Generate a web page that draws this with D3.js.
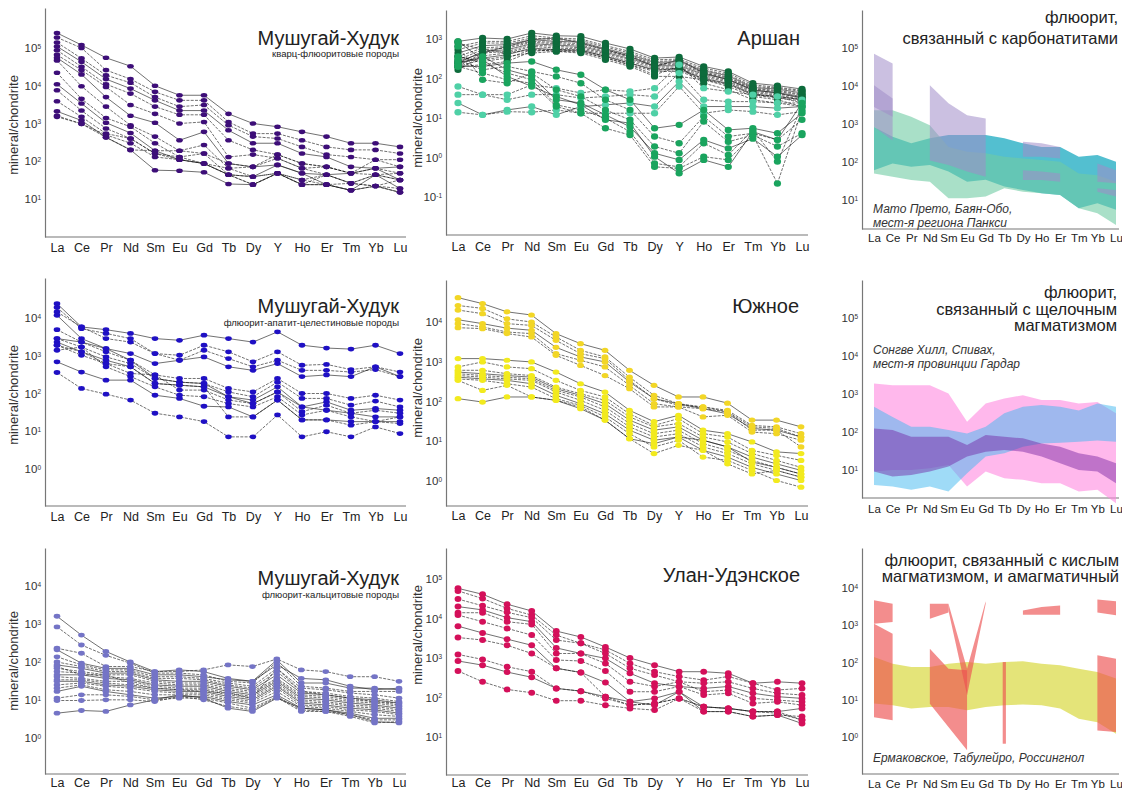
<!DOCTYPE html>
<html>
<head>
<meta charset="utf-8">
<title>REE spectra of fluorite</title>
<script src="https://d3js.org/d3.v7.min.js"></script>
<style>
    body { margin: 0; background: #fff; }
    svg { font-family: "Liberation Sans", Arial, sans-serif; }
</style>
</head>
<body>
<script>
    var ree15 = ["La", "Ce", "Pr", "Nd", "Sm", "Eu", "Gd", "Tb", "Dy", "Y", "Ho", "Er", "Tm", "Yb", "Lu"];
    var ree14 = ["La", "Ce", "Pr", "Nd", "Sm", "Eu", "Gd", "Tb", "Dy", "Ho", "Er", "Tm", "Yb", "Lu"];

    // Мушугай-Худук, кварц-флюоритовые породы
    var quartzFluorite = [
        [2.5e5, 1.2e5, 5.5e4, 3.3e4, 1.0e4, 5.6e3, 5.6e3, 1.8e3, 1.0e3, 820, 600, 450, 300, 300, 240],
        [1.9e5, 1.0e5, 2.6e4, 1.5e4, 6.9e3, 4.1e3, 4.1e3, 1.1e3, 540, 540, 360, 240, 200, 200, 160],
        [1.4e5, 5.3e4, 1.9e4, 1.2e4, 5.0e3, 2.8e3, 3.1e3, 900, 450, 400, 240, 150, 130, 110, 110],
        [1.1e5, 4.3e4, 1.5e4, 8.4e3, 4.1e3, 2.2e3, 2.2e3, 660, 300, 300, 160, 130, 71, 65, 71],
        [8.7e4, 3.2e4, 1.1e4, 6.2e3, 2.8e3, 1.7e3, 1.7e3, 360, 200, 150, 87, 71, 48, 44, 48],
        [6.6e4, 2.6e4, 9.3e3, 3.1e3, 1.8e3, 1.0e3, 1.1e3, 130, 150, 120, 65, 44, 26, 22, 32],
        [5.5e4, 2.0e4, 5.0e3, 1.6e3, 1.05e3, 360, 600, 87, 71, 80, 48, 24, 17, 44, 19],
        [4.7e4, 9.7e3, 2.8e3, 900, 450, 190, 270, 65, 39, 48, 32, 44, 26, 22, 15],
        [2.2e4, 4.5e3, 1.4e3, 820, 300, 130, 160, 44, 24, 48, 24, 24, 17, 22, 19],
        [1.1e4, 3.4e3, 1.05e3, 560, 190, 110, 87, 44, 39, 80, 48, 44, 48, 65, 32],
        [7.6e3, 2.2e3, 740, 400, 160, 110, 87, 44, 39, 48, 32, 24, 26, 44, 32],
        [3.9e3, 1.5e3, 540, 400, 160, 130, 87, 65, 71, 120, 65, 71, 48, 65, 48],
        [2.1e3, 1.2e3, 430, 200, 58, 56, 51, 25, 24, 48, 24, 24, 17, 22, 15],
        [1.6e3, 980, 430, 200, 190, 190, 160, 87, 71, 150, 87, 71, 48, 110, 71],
        [1.5e3, 980, 500, 300, 130, 110, 87, 44, 24, 48, 24, 44, 26, 44, 32]
    ];

    // Аршан: три группы образцов
    var arshanDark = [
        [870, 1060, 1000, 1420, 1210, 1170, 790, 560, 329, 350, 202, 151, 76, 66, 54],
        [650, 870, 870, 1210, 1060, 1000, 680, 485, 298, 310, 183, 137, 69, 60, 50],
        [535, 790, 790, 1060, 960, 920, 625, 440, 270, 285, 166, 124, 63, 57, 47],
        [440, 680, 720, 960, 870, 840, 570, 400, 255, 265, 156, 117, 59, 54, 43],
        [362, 590, 650, 870, 820, 760, 535, 375, 235, 245, 145, 108, 56, 50, 40],
        [298, 535, 590, 820, 760, 700, 495, 350, 222, 225, 137, 102, 54, 47, 38],
        [245, 485, 535, 760, 700, 650, 460, 320, 210, 210, 127, 96, 50, 44, 35],
        [202, 440, 485, 700, 650, 600, 425, 298, 195, 195, 117, 89, 47, 41, 33],
        [166, 375, 440, 650, 590, 560, 390, 270, 180, 180, 108, 83, 44, 38, 30],
        [245, 329, 400, 590, 535, 515, 362, 245, 166, 166, 100, 76, 41, 35, 29],
        [362, 270, 329, 535, 485, 475, 335, 222, 151, 151, 93, 70, 38, 32, 27],
        [202, 222, 270, 485, 535, 535, 362, 245, 160, 183, 96, 73, 39, 34, 24],
        [270, 440, 650, 960, 1060, 790, 535, 362, 202, 298, 137, 93, 52, 43, 32],
        [202, 298, 362, 440, 485, 440, 298, 202, 113, 113, 93, 63, 35, 29, 19.5],
        [790, 535, 440, 535, 535, 485, 329, 222, 124, 202, 76, 52, 29, 24, 19.5]
    ];
    var arshanMid = [
        [202, 202, 245, 270, 166, 124, 52, 29, 5.5, 6.7, 16, 5.0, 5.5, 4.1, 13.2],
        [298, 166, 202, 151, 113, 76, 29, 16, 3.4, 2.3, 10.9, 3.4, 4.1, 2.8, 9.0],
        [650, 93, 76, 137, 52, 35, 16, 9.0, 1.9, 1.28, 8.1, 2.5, 3.7, 1.9, 4.1],
        [245, 362, 166, 113, 29, 24, 12, 6.0, 1.28, 0.87, 2.8, 1.7, 3.0, 1.05, 3.7],
        [362, 245, 137, 93, 21.5, 16, 9.9, 4.5, 0.71, 0.58, 2.3, 1.16, 5.0, 0.79, 19.5],
        [202, 137, 93, 76, 19.5, 13.2, 5.5, 3.7, 0.58, 0.53, 1.05, 0.87, 3.7, 0.22, 16],
        [870, 298, 113, 63, 35, 21.5, 9.0, 7.4, 1.05, 0.40, 0.87, 0.58, 4.5, 2.8, 24]
    ];
    var arshanLight = [
        [63, 39, 39, 69, 57, 43, 52, 47, 57, 222, 57, 47, 39, 35, 29],
        [39, 39, 29, 39, 39, 32, 35, 39, 35, 137, 29, 26, 26, 24, 24],
        [24, 12, 16, 19.5, 12, 19.5, 21.5, 24, 19.5, 84, 19.5, 19.5, 19.5, 17.7, 19.5],
        [14, 12, 14.5, 14, 16, 13.2, 13.2, 13.2, 13.2, 63, 13.2, 16, 14.5, 12, 14.5]
    ];

    // Мушугай-Худук, флюорит-апатит-целестиновые породы
    var fluorApatite = [
        [2.4e4, 5.8e3, 4.9e3, 3.9e3, 2.85e3, 2.57e3, 3.5e3, 2.85e3, 2.3e3, 4.3e3, 1.9e3, 1.6e3, 1.5e3, 1.9e3, 1.14e3],
        [1.9e4, 5.2e3, 3.9e3, 2.85e3, 1.14e3, 1.03e3, 1.9e3, 1.27e3, 690, 1.27e3, 560, 590, 430, 510, 370],
        [1.45e4, 5.8e3, 2.85e3, 2.3e3, 1.14e3, 760, 1.4e3, 840, 510, 760, 410, 410, 370, 430, 280],
        [1.18e4, 2.85e3, 1.55e3, 1.14e3, 620, 760, 930, 510, 410, 620, 280, 310, 280, 510, 280],
        [4.9e3, 2.3e3, 1.27e3, 760, 310, 250, 250, 136, 110, 250, 100, 100, 74, 90, 67],
        [2.85e3, 1.7e3, 930, 620, 250, 200, 184, 110, 82, 200, 74, 74, 49, 63, 44],
        [2.3e3, 1.27e3, 760, 510, 184, 166, 150, 82, 67, 150, 44, 60, 36, 40, 36],
        [1.9e3, 1.03e3, 620, 340, 310, 123, 123, 67, 54, 110, 33, 49, 30, 36, 30],
        [1.4e3, 1.7e3, 510, 280, 150, 90, 82, 54, 44, 82, 27, 36, 24, 18, 24],
        [690, 370, 226, 226, 90, 74, 46, 44, 24, 67, 20, 20, 18, 18, 18],
        [360, 136, 96, 67, 30, 24, 18, 7.1, 7.1, 27, 7.1, 9.7, 7.1, 13, 8.7],
        [1.9e3, 1.27e3, 620, 510, 184, 166, 150, 24, 24, 67, 20, 20, 14.5, 18, 16],
        [2.85e3, 2.3e3, 1.55e3, 760, 250, 200, 184, 82, 54, 110, 44, 36, 30, 24, 24]
    ];

    // Южное: верхняя и нижняя группы
    var yuzhUpper = [
        [4.1e4, 2.9e4, 1.8e4, 1.5e4, 5.1e3, 2.85e3, 1.94e3, 610, 255, 130, 130, 91, 34, 34, 23],
        [2.6e4, 2.2e4, 1.2e4, 1.0e4, 4.2e3, 1.94e3, 1.32e3, 410, 143, 88, 73, 60, 25, 23, 15.5],
        [2.0e4, 1.62e4, 9.1e3, 8.2e3, 3.45e3, 1.6e3, 1.2e3, 340, 118, 80, 73, 55, 23, 21, 12.8],
        [1.14e4, 9.1e3, 7.0e3, 6.2e3, 2.3e3, 1.32e3, 990, 310, 118, 88, 66, 49, 21, 19, 12.8],
        [9.1e3, 7.5e3, 5.6e3, 5.1e3, 1.6e3, 1.09e3, 740, 255, 88, 73, 41, 45, 17, 15.5, 10.6],
        [7.2e3, 6.8e3, 5.1e3, 4.2e3, 1.45e3, 810, 450, 210, 73, 73, 66, 55, 19, 19, 7.2]
    ];
    var yuzhLower = [
        [1.2e3, 1.2e3, 1.09e3, 990, 550, 280, 173, 60, 31, 45, 19, 15.5, 9.6, 5.4, 4.9],
        [740, 990, 740, 670, 340, 190, 130, 49, 25, 37, 15.5, 12.8, 5.9, 4.4, 3.3],
        [610, 610, 500, 450, 230, 157, 107, 41, 23, 28, 12.8, 9.6, 4.9, 3.3, 2.2],
        [550, 500, 450, 410, 210, 143, 88, 34, 19, 23, 10.6, 7.2, 4.0, 2.7, 1.85],
        [500, 450, 410, 370, 190, 130, 73, 28, 15.5, 19, 8.7, 5.9, 3.3, 2.2, 1.5],
        [450, 410, 370, 340, 173, 107, 60, 23, 12.8, 15.5, 7.2, 4.9, 2.7, 1.85, 1.25],
        [410, 370, 340, 280, 143, 88, 49, 19, 10.6, 12.8, 5.9, 4.0, 2.2, 1.5, 1.03],
        [370, 340, 280, 230, 118, 80, 41, 15.5, 7.2, 10.6, 4.0, 3.3, 1.85, 1.03, 0.70],
        [340, 190, 255, 130, 107, 73, 34, 11.6, 4.9, 7.9, 5.9, 2.7, 1.5, 1.85, 1.25],
        [118, 97, 130, 130, 107, 66, 34, 11.6, 8.7, 12.8, 10.6, 7.2, 3.0, 2.2, 1.5]
    ];

    // Мушугай-Худук, флюорит-кальцитовые породы
    var fluorCalcite = [
        [1.6e3, 510, 190, 100, 56, 62, 56, 37, 31, 113, 28, 28, 20.5, 20.5, 18.6],
        [840, 280, 150, 93, 51, 51, 46, 31, 28, 100, 23, 20.5, 16.8, 16.8, 16.8],
        [230, 170, 76, 76, 56, 56, 62, 84, 76, 120, 62, 56, 41, 41, 31],
        [210, 93, 68, 68, 46, 46, 41, 34, 31, 84, 37, 34, 23, 18.6, 20.5],
        [137, 84, 62, 62, 41, 41, 37, 28, 23, 68, 20.5, 18.6, 15.2, 13.7, 11.2],
        [100, 76, 56, 56, 37, 37, 34, 25, 20.5, 56, 16.8, 15.2, 12.4, 11.2, 9.1],
        [84, 68, 51, 51, 34, 31, 31, 23, 18.6, 46, 15.2, 13.7, 11.2, 10.1, 8.3],
        [68, 56, 46, 46, 31, 28, 28, 20.5, 16.8, 37, 13.7, 12.4, 10.1, 9.1, 7.4],
        [56, 51, 41, 37, 28, 25, 25, 18.6, 15.2, 34, 12.4, 11.2, 9.1, 8.3, 6.8],
        [46, 46, 37, 34, 25, 23, 23, 16.8, 13.7, 31, 11.2, 10.1, 8.3, 7.4, 6.1],
        [41, 37, 31, 31, 23, 20.5, 20.5, 15.2, 12.4, 28, 10.1, 9.1, 7.4, 6.8, 5.5],
        [34, 34, 28, 25, 20.5, 18.6, 18.6, 13.7, 11.2, 25, 9.1, 8.3, 6.8, 6.1, 5.0],
        [31, 31, 25, 23, 18.6, 16.8, 16.8, 12.4, 10.1, 23, 8.3, 7.4, 6.1, 5.5, 4.5],
        [25, 28, 23, 20.5, 16.8, 15.2, 15.2, 11.2, 9.1, 20.5, 7.4, 6.8, 5.5, 5.0, 4.1],
        [20.5, 25, 18.6, 16.8, 13.7, 13.7, 13.7, 10.1, 8.3, 16.8, 6.8, 6.1, 5.0, 4.1, 3.7],
        [16.8, 23, 16.8, 13.7, 11.2, 12.4, 12.4, 9.1, 7.4, 13.7, 6.1, 5.5, 4.5, 3.3, 3.3],
        [11.2, 13.7, 13.7, 12.4, 10.1, 11.2, 11.2, 8.3, 6.1, 12.4, 5.5, 5.0, 4.1, 3.0, 3.0],
        [9.7, 9.7, 10.1, 10.1, 9.1, 12.4, 10.1, 6.8, 5.5, 11.7, 5.0, 5.0, 3.7, 2.5, 2.7],
        [4.5, 5.3, 5.0, 7.4, 10.1, 13.7, 11.2, 6.1, 5.0, 11.2, 6.1, 5.5, 4.1, 2.7, 2.5],
        [76, 46, 46, 28, 20.5, 18.6, 16.8, 15.2, 11.2, 68, 16.8, 13.7, 11.2, 9.1, 8.3]
    ];

    // Улан-Удэнское
    var ulanUde = [
        [5.8e4, 4.1e4, 2.3e4, 1.55e4, 4.8e3, 3.4e3, 1.9e3, 1.0e3, 660, 450, 450, 410, 230, 250, 230],
        [5.0e4, 3.2e4, 1.8e4, 1.22e4, 3.8e3, 2.35e3, 1.6e3, 730, 450, 340, 275, 340, 230, 155, 170],
        [3.1e4, 2.1e4, 1.43e4, 1.05e4, 2.85e3, 2.35e3, 1.3e3, 550, 370, 250, 230, 250, 170, 128, 116],
        [2.0e4, 1.65e4, 1.05e4, 8.3e3, 1.8e3, 1.3e3, 980, 410, 230, 190, 170, 190, 128, 105, 95],
        [1.4e4, 1.4e4, 8.3e3, 7.1e3, 1.3e3, 1.3e3, 730, 250, 190, 250, 140, 155, 95, 86, 78],
        [1.22e4, 8.3e3, 5.6e3, 3.8e3, 890, 840, 470, 140, 140, 190, 116, 128, 71, 78, 64],
        [6.4e3, 4.3e3, 3.0e3, 2.1e3, 550, 430, 240, 78, 95, 140, 58, 53, 44, 44, 53],
        [3.3e3, 2.85e3, 2.1e3, 1.3e3, 550, 430, 105, 64, 71, 95, 44, 44, 33, 36, 33],
        [1.23e3, 920, 600, 450, 170, 145, 95, 64, 71, 95, 58, 53, 44, 44, 27],
        [840, 660, 440, 325, 170, 145, 105, 78, 64, 140, 44, 44, 33, 36, 22],
        [470, 250, 160, 132, 83, 83, 64, 53, 48, 95, 58, 53, 44, 40, 27]
    ];

    // флюорит, связанный с карбонатитами (поля: верхняя / нижняя граница)
    var carbTealUp = [840, 460, 310, 420, 510, 510, 510, 420, 310, 250, 250, 138, 152, 102];
    var carbTealLo = [61, 92, 75, 83, 56, 30, 34, 22.5, 18.4, 15, 13.6, 6.1, 8.2, 5.5];
    var carbMintUp = [2.3e3, 2.3e3, 1.55e3, 930, 250, 186, 169, 138, 124, 113, 102, 50, 45, 30];
    var carbMintLo = [50, 41, 33.6, 30.4, 11.1, 11.1, 12.3, 20.3, 16.6, 15, 13.6, 6.1, 4.5, 2.2];
    var carbPurpleAUp = [7.1e4, 3.9e4, null, 1.05e4, 3.5e3, 1.7e3, 1.4e3, null, 340, 310, 250, null, 91, 61];
    var carbPurpleALo = [850, 370, null, 110, 83, 56, 41, null, 138, 138, 124, null, 30.4, 27.5];
    var carbPurpleBUp = [1.05e4, 4.7e3, null, null, null, null, null, null, 61, 56, 50, null, 20.3, 18.4];
    var carbPurpleBLo = [2.8e3, 1.55e3, null, null, null, null, null, null, 33.6, 33.6, 30.4, null, 16.6, 12.3];

    // флюорит, связанный с щелочным магматизмом
    var alkPinkUp = [1.89e3, 1.71e3, 1.71e3, 1.71e3, 1.03e3, 186, 560, 760, 930, 690, 690, 560, 620, 310];
    var alkPinkLo = [9.1, 10, 10, 11.1, 13.6, 3.66, 9.1, 6.1, 5.5, 4.5, 4.5, 2.7, 3.0, 1.34];
    var alkBlueUp = [460, 250, 138, 138, 113, 92, 138, 310, 460, 510, 460, 370, 560, 460];
    var alkBlueLo = [4.06, 3.66, 3.0, 3.66, 2.7, 8.2, 22.5, 27.5, 41, 50, 52, 55, 60, 55];
    var alkPurpleUp = [124, 113, 75, 75, 75, 45.5, 83, 75, 68, 50, 41, 27.5, 22.5, 15];
    var alkPurpleLo = [9.1, 6.7, 7.4, 9.1, 12.3, 22.5, 30.4, 33.6, 30.4, 22.5, 15, 10, 9.1, 4.5];

    // флюорит, связанный с кислым магматизмом, и амагматичный
    var acidYellowUp = [140, 93, 76, 76, 93, 103, 93, 103, 108, 93, 84, 68, 56, 37];
    var acidYellowLo = [7.9, 7.1, 5.8, 6.4, 6.4, 5.2, 6.4, 7.1, 7.4, 7.1, 5.8, 3.1, 2.5, 1.23];
    var acidRed = [
        { up: [4.7e3, 3.8e3, null, null, null, null, null, null, null, null, null, null, null, null],
          lo: [1.1e3, 1.22e3, null, null, null, null, null, null, null, null, null, null, null, null] },
        { up: [1.1e3, 590, null, null, null, null, null, null, null, null, null, null, null, null],
          lo: [3.4, 2.8, null, null, null, null, null, null, null, null, null, null, null, null] },
        { up: [null, null, null, 3.8e3, 3.8e3, null, null, null, null, null, null, null, null, null],
          lo: [null, null, null, 1.5e3, 2.2e3, null, null, null, null, null, null, null, null, null] },
        { up: [null, null, null, 235, 68, 62, null, null, null, null, null, null, null, null],
          lo: [null, null, null, 7.85, 1.85, 0.44, null, null, null, null, null, null, null, null] },
        { up: [null, null, null, null, 3.8e3, 68, 4.4e3, null, null, null, null, null, null, null],
          lo: [null, null, null, null, 2.5e3, 13.2, 3.8e3, null, null, null, null, null, null, null] },
        { up: [null, null, null, null, null, null, null, 103, null, null, null, null, null, null],
          lo: [null, null, null, null, null, null, null, 0.66, null, null, null, null, null, null] },
        { up: [null, null, null, null, null, null, null, null, 2.5e3, 3.1e3, 3.4e3, null, null, null],
          lo: [null, null, null, null, null, null, null, null, 1.92e3, 1.92e3, 1.92e3, null, null, null] },
        { up: [null, null, null, null, null, null, null, null, null, null, null, null, 4.9e3, 4.4e3],
          lo: [null, null, null, null, null, null, null, null, null, null, null, null, 2.2e3, 1.85e3] },
        { up: [null, null, null, null, null, null, null, null, null, null, null, null, 156, 127],
          lo: [null, null, null, null, null, null, null, null, null, null, null, null, 1.5, 1.36] }
    ];

    var svg = d3.select("body").append("svg")
        .attr("width", 1122)
        .attr("height", 792);

    function makePanel(p) {
        var g = svg.append("g");
        var y = d3.scaleLog().domain([p.lo[0], p.hi[0]]).range([p.lo[1], p.hi[1]]);
        var dTop = y.invert(p.top), dBot = y.invert(p.bottom);
        y.domain([dBot, dTop]).range([p.bottom, p.top]);
        var x = d3.scalePoint().domain(p.cats).range([p.xFirst, p.xLast]);

        var ya = g.append("g")
            .attr("transform", "translate(" + p.x0 + ",0)")
            .call(d3.axisLeft(y).tickValues(p.ticks).tickSize(0).tickSizeOuter(0).tickPadding(4).tickFormat(""));
        ya.attr("font-family", null).attr("font-size", 11.5);
        ya.select(".domain").attr("stroke", "#777").attr("stroke-width", 1.2);
        ya.selectAll(".tick text").attr("fill", "#333").each(function (d) {
            var t = d3.select(this);
            t.text("10");
            t.append("tspan").attr("dy", "-0.5em").attr("font-size", "6.5px")
                .text(Math.round(Math.log10(d)));
        });

        g.append("line")
            .attr("x1", p.x0).attr("x2", p.xEnd)
            .attr("y1", p.bottom).attr("y2", p.bottom)
            .attr("stroke", "#777").attr("stroke-width", 1.2);

        var xa = g.append("g")
            .attr("transform", "translate(0," + p.bottom + ")")
            .call(d3.axisBottom(x).tickSize(0));
        xa.attr("font-family", null).attr("font-size", p.labelFs);
        xa.select(".domain").remove();
        xa.selectAll(".tick text").attr("fill", "#222")
            .attr("y", p.labelY - p.bottom).attr("dy", 0);

        if (p.ylab) {
            g.append("text")
                .attr("transform", "translate(" + p.ylab[0] + "," + p.ylab[1] + ") rotate(-90)")
                .attr("text-anchor", "middle")
                .attr("font-size", 13)
                .attr("fill", "#333")
                .text("mineral/chondrite");
        }
        return { g: g, x: x, y: y, cats: p.cats };
    }

    function drawLines(P, series) {
        var line = d3.line()
            .x(function (d, i) { return P.x(P.cats[i]); })
            .y(function (d) { return P.y(d); });
        P.g.append("g").selectAll("path")
            .data(series)
            .enter()
            .append("path")
            .attr("d", line)
            .attr("fill", "none")
            .attr("stroke", "#111")
            .attr("stroke-width", 0.6)
            .attr("stroke-dasharray", function (d, i) { return i % 3 === 0 ? null : "3,1.3"; });
    }

    function drawDots(P, series, color, rx, ry) {
        var pts = [];
        series.forEach(function (s) {
            s.forEach(function (v, i) { pts.push({ c: P.cats[i], v: v }); });
        });
        P.g.append("g").selectAll("ellipse")
            .data(pts)
            .enter()
            .append("ellipse")
            .attr("cx", function (d) { return P.x(d.c); })
            .attr("cy", function (d) { return P.y(d.v); })
            .attr("rx", rx)
            .attr("ry", ry)
            .attr("fill", color);
    }

    function drawBand(P, up, lo, color, op) {
        var pts = P.cats.map(function (c, i) { return { c: c, u: up[i], l: lo[i] }; });
        var defined = pts.filter(function (d) { return d.u != null; });
        if (defined.length === 1) {
            var d = defined[0];
            P.g.append("rect")
                .attr("x", P.x(d.c) - 1.6).attr("width", 3.2)
                .attr("y", P.y(d.u)).attr("height", P.y(d.l) - P.y(d.u))
                .attr("fill", color).attr("fill-opacity", op);
            return;
        }
        var area = d3.area()
            .defined(function (d) { return d.u != null; })
            .x(function (d) { return P.x(d.c); })
            .y0(function (d) { return P.y(d.l); })
            .y1(function (d) { return P.y(d.u); });
        P.g.append("path")
            .attr("d", area(pts))
            .attr("fill", color)
            .attr("fill-opacity", op);
    }

    function title(lines, xr, y0, fs, step) {
        lines.forEach(function (t, i) {
            svg.append("text")
                .attr("x", xr).attr("y", y0 + i * step)
                .attr("text-anchor", "end")
                .attr("font-size", fs)
                .attr("fill", "#222")
                .text(t);
        });
    }

    function note(lines, x0, y0) {
        lines.forEach(function (t, i) {
            svg.append("text")
                .attr("x", x0).attr("y", y0 + i * 14)
                .attr("font-size", 12)
                .attr("font-style", "italic")
                .attr("fill", "#333")
                .text(t);
        });
    }

    var t15a = [1e1, 1e2, 1e3, 1e4, 1e5];
    var t04 = [1e0, 1e1, 1e2, 1e3, 1e4];

    // ряд 1
    var p1 = makePanel({ x0: 45, top: 8, bottom: 237, xFirst: 57, xLast: 400, xEnd: 406,
        lo: [1e1, 199], hi: [1e5, 48], ticks: t15a, cats: ree15, labelY: 252, labelFs: 12.5, ylab: [18, 125] });
    drawLines(p1, quartzFluorite);
    drawDots(p1, quartzFluorite, "#3d0e78", 3.3, 2.3);
    title(["Мушугай-Худук"], 399, 45, 20, 0);
    title(["кварц-флюоритовые породы"], 399, 57, 9.5, 0);

    var p2 = makePanel({ x0: 446, top: 10, bottom: 235, xFirst: 458, xLast: 802, xEnd: 808,
        lo: [1e-1, 197], hi: [1e3, 39], ticks: [1e-1, 1e0, 1e1, 1e2, 1e3], cats: ree15, labelY: 251, labelFs: 12.5, ylab: [422, 118] });
    drawLines(p2, arshanDark.concat(arshanMid, arshanLight));
    drawDots(p2, arshanDark, "#0d6b3c", 3.6, 3.2);
    drawDots(p2, arshanLight, "#4fd0a6", 3.6, 3.2);
    drawDots(p2, arshanMid, "#1aa45e", 3.6, 3.2);
    title(["Аршан"], 800, 45, 20, 0);

    var p3 = makePanel({ x0: 862, top: 10, bottom: 229, xFirst: 874, xLast: 1116, xEnd: 1119,
        lo: [1e1, 200], hi: [1e5, 48], ticks: t15a, cats: ree14, labelY: 242, labelFs: 11.5 });
    drawBand(p3, carbTealUp, carbTealLo, "#1aa9c0", 0.75);
    drawBand(p3, carbMintUp, carbMintLo, "#6fcba3", 0.6);
    drawBand(p3, carbPurpleAUp, carbPurpleALo, "#a08cc8", 0.55);
    drawBand(p3, carbPurpleBUp, carbPurpleBLo, "#a08cc8", 0.55);
    title(["флюорит,", "связанный с карбонатитами"], 1118, 23, 16.5, 21);
    note(["Мато Прето, Баян-Обо,", "мест-я региона Панкси"], 873, 213);

    // ряд 2
    var p4 = makePanel({ x0: 45, top: 278, bottom: 506, xFirst: 57, xLast: 400, xEnd: 406,
        lo: [1e0, 469], hi: [1e4, 318], ticks: t04, cats: ree15, labelY: 521, labelFs: 12.5, ylab: [18, 395] });
    drawLines(p4, fluorApatite);
    drawDots(p4, fluorApatite, "#1f10c4", 3.3, 2.4);
    title(["Мушугай-Худук"], 399, 313, 20, 0);
    title(["флюорит-апатит-целестиновые породы"], 399, 326, 9.5, 0);

    var p5 = makePanel({ x0: 446, top: 280, bottom: 506, xFirst: 458, xLast: 801, xEnd: 808,
        lo: [1e0, 481], hi: [1e4, 322], ticks: t04, cats: ree15, labelY: 520, labelFs: 12.5, ylab: [422, 388] });
    drawLines(p5, yuzhUpper.concat(yuzhLower));
    drawDots(p5, yuzhLower, "#f2ea1e", 3.4, 2.6);
    drawDots(p5, yuzhUpper, "#f2d626", 3.4, 2.6);
    title(["Южное"], 799, 313, 20, 0);

    var p6 = makePanel({ x0: 862, top: 280, bottom: 498, xFirst: 874, xLast: 1116, xEnd: 1119,
        lo: [1e1, 470], hi: [1e5, 318], ticks: t15a, cats: ree14, labelY: 513, labelFs: 11.5 });
    drawBand(p6, alkPinkUp, alkPinkLo, "#ff88e0", 0.6);
    drawBand(p6, alkBlueUp, alkBlueLo, "#40b8f0", 0.5);
    drawBand(p6, alkPurpleUp, alkPurpleLo, "#7020a0", 0.45);
    title(["флюорит,", "связанный с щелочным", "магматизмом"], 1117, 298, 16.5, 16.5);
    note(["Сонгве Хилл, Спивах,", "мест-я провинции Гардар"], 873, 354);

    // ряд 3
    var p7 = makePanel({ x0: 45, top: 548, bottom: 774, xFirst: 57, xLast: 399, xEnd: 406,
        lo: [1e0, 738], hi: [1e4, 586], ticks: t04, cats: ree15, labelY: 787, labelFs: 12.5, ylab: [18, 661] });
    drawLines(p7, fluorCalcite);
    drawDots(p7, fluorCalcite, "#7474c6", 3.3, 2.4);
    title(["Мушугай-Худук"], 399, 585, 20, 0);
    title(["флюорит-кальцитовые породы"], 399, 598, 9.5, 0);

    var p8 = makePanel({ x0: 446, top: 548, bottom: 775, xFirst: 458, xLast: 802, xEnd: 808,
        lo: [1e1, 737], hi: [1e5, 579], ticks: t15a, cats: ree15, labelY: 787, labelFs: 12.5, ylab: [422, 635] });
    drawLines(p8, ulanUde);
    drawDots(p8, ulanUde, "#d4105a", 3.4, 3.0);
    title(["Улан-Удэнское"], 800, 582, 20, 0);

    var p9 = makePanel({ x0: 862, top: 548, bottom: 774, xFirst: 874, xLast: 1116, xEnd: 1119,
        lo: [1e0, 737], hi: [1e4, 588], ticks: t04, cats: ree14, labelY: 788, labelFs: 11.5 });
    drawBand(p9, acidYellowUp, acidYellowLo, "#d8d840", 0.7);
    acidRed.forEach(function (b) { drawBand(p9, b.up, b.lo, "#ec5050", 0.65); });
    title(["флюорит, связанный с кислым", "магматизмом, и амагматичный"], 1119, 566, 16.5, 16);
    note(["Ермаковское, Табулейро, Россингнол"], 873, 762);
</script>
</body>
</html>
